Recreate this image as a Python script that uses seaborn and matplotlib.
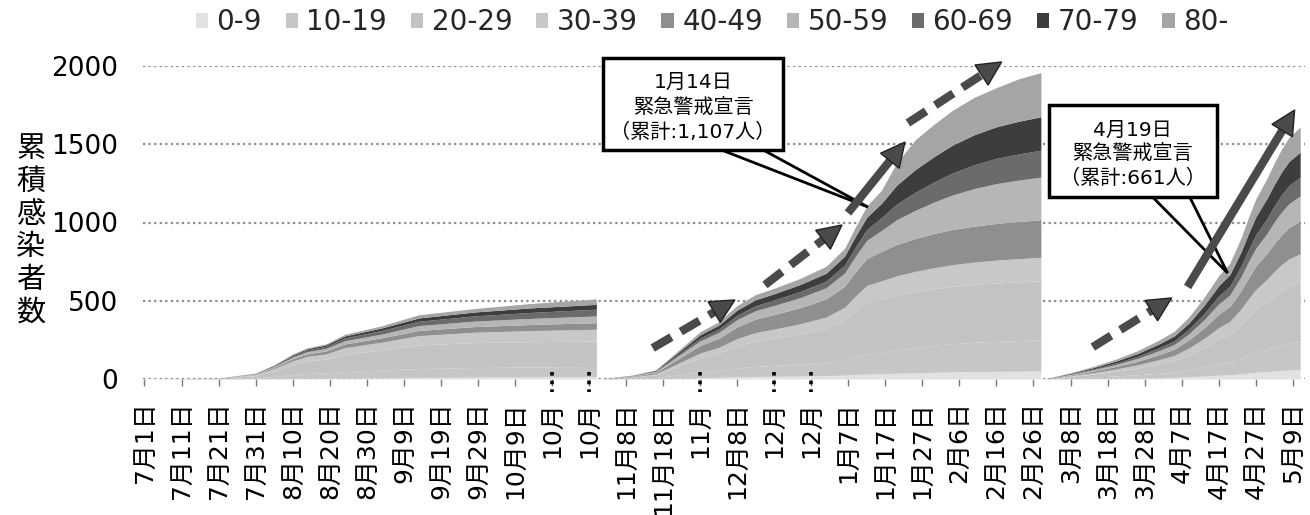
import numpy as np
import matplotlib
matplotlib.use("Agg")
import matplotlib.pyplot as plt
from matplotlib.patches import Patch, Polygon, Rectangle
import seaborn as sns

# age groups, bottom of the stack first
age_groups = ["0-9", "10-19", "20-29", "30-39", "40-49", "50-59", "60-69", "70-79", "80-"]
group_colors = ["#e2e2e2", "#c6c6c6", "#c3c3c3", "#c8c8c8", "#8f8f8f",
                "#b6b6b6", "#6b6b6b", "#3d3d3d", "#a5a5a5"]

# x axis: one category per day starting 7月1日, a label every 10 days
tick_days = list(range(0, 320, 10))
tick_labels = ["7月1日", "7月11日", "7月21日", "7月31日", "8月10日", "8月20日", "8月30日",
               "9月9日", "9月19日", "9月29日", "10月9日", "10月", "10月", "11月8日",
               "11月18日", "11月", "12月8日", "12月", "12月", "1月7日", "1月17日",
               "1月27日", "2月6日", "2月16日", "2月26日", "3月8日", "3月18日", "3月28日",
               "4月7日", "4月17日", "4月27日", "5月9日"]
marked_days = [110, 120, 150, 170, 180]

# wave 1 (7/1 - 10/31), cumulative cases per age group
wave1_days = [0, 20, 30, 35, 40, 44, 49, 54, 64, 74, 89, 104, 122]
wave1_counts = [
    [0, 0, 1, 2, 3, 4, 5, 6, 8, 10, 12, 14, 15],
    [0, 1, 6, 14, 25, 31, 34, 42, 49, 57, 61, 63, 65],
    [0, 3, 15, 36, 64, 80, 88, 110, 128, 150, 160, 161, 163],
    [0, 1, 6, 14, 24, 30, 33, 42, 50, 60, 66, 71, 75],
    [0, 1, 3, 8, 13, 16, 19, 24, 28, 33, 36, 39, 42],
    [0, 0, 3, 6, 11, 14, 16, 20, 24, 31, 35, 39, 43],
    [0, 0, 2, 5, 9, 11, 13, 18, 23, 28, 33, 38, 43],
    [0, 0, 1, 3, 6, 8, 10, 13, 16, 21, 25, 29, 31],
    [0, 0, 1, 2, 5, 6, 7, 10, 14, 20, 22, 28, 35],
]

# wave 2 (11/1 - 2/28)
wave2_days = [123, 132, 138, 144, 150, 155, 160, 165, 170, 177, 184, 189,
              192, 195, 199, 203, 208, 213, 218, 224, 230, 236, 242]
wave2_counts = [
    [0, 1, 2, 5, 9, 11, 14, 16, 17, 19, 22, 25, 29, 32, 34, 37, 40, 43, 45, 47, 49, 50, 51],
    [0, 3, 7, 22, 36, 44, 56, 65, 70, 77, 86, 100, 116, 130, 138, 150, 162, 172, 180, 187, 192, 196, 200],
    [0, 8, 17, 54, 91, 110, 141, 162, 174, 193, 216, 250, 290, 326, 340, 350, 357, 362, 366, 370, 373, 375, 377],
    [0, 3, 6, 18, 30, 37, 47, 54, 58, 64, 72, 84, 97, 110, 116, 122, 128, 134, 139, 143, 146, 148, 150],
    [0, 4, 9, 29, 48, 58, 75, 86, 93, 103, 115, 134, 155, 172, 188, 200, 210, 218, 225, 230, 234, 237, 240],
    [0, 3, 6, 18, 30, 37, 47, 54, 58, 64, 72, 84, 100, 116, 134, 158, 180, 200, 220, 240, 255, 265, 272],
    [0, 2, 4, 11, 18, 22, 28, 32, 35, 39, 43, 50, 60, 70, 82, 100, 115, 128, 140, 152, 161, 167, 172],
    [0, 1, 4, 12, 21, 25, 33, 38, 40, 45, 50, 58, 68, 78, 92, 120, 145, 162, 178, 192, 202, 209, 214],
    [0, 1, 3, 11, 19, 22, 29, 33, 35, 39, 44, 50, 60, 71, 84, 141, 190, 206, 222, 239, 250, 271, 282],
]

# wave 3 (3/1 - 5/9)
wave3_days = [243, 250, 256, 262, 268, 274, 278, 282, 286, 290, 293, 296,
              298, 300, 303, 305, 307, 309, 312]
wave3_counts = [
    [0, 1, 3, 5, 7, 9, 11, 15, 19, 24, 27, 33, 38, 43, 48, 51, 55, 58, 60],
    [0, 5, 9, 14, 20, 28, 34, 45, 58, 74, 83, 101, 115, 129, 143, 155, 165, 173, 180],
    [0, 10, 19, 30, 43, 59, 72, 94, 123, 156, 175, 212, 243, 271, 302, 326, 347, 364, 380],
    [0, 5, 9, 14, 20, 28, 34, 45, 58, 74, 83, 101, 115, 129, 143, 155, 165, 173, 180],
    [0, 5, 10, 16, 23, 33, 40, 52, 68, 86, 96, 117, 134, 149, 166, 179, 190, 200, 210],
    [0, 4, 8, 12, 18, 25, 30, 39, 52, 66, 73, 89, 102, 114, 127, 137, 146, 153, 160],
    [0, 3, 6, 9, 13, 19, 23, 30, 39, 50, 56, 68, 77, 86, 96, 103, 110, 116, 120],
    [0, 4, 8, 13, 18, 25, 31, 39, 52, 66, 74, 90, 103, 115, 128, 137, 146, 154, 160],
    [0, 3, 8, 12, 18, 24, 30, 39, 51, 65, 73, 89, 103, 114, 127, 137, 146, 154, 160],
]

# the two state-of-emergency call-outs
notes = [
    {"lines": ["1月14日", "緊急警戒宣言", "（累計:1,107人）"],
     "box": (123.8, 172.4, 1463, 2051), "line_y": [1898, 1732, 1578],
     "wedge": [(151.8, 1500), (195.3, 1099), (164.2, 1500)]},
    {"lines": ["4月19日", "緊急警戒宣言", "（累計:661人）"],
     "box": (244.1, 289.5, 1163, 1751), "line_y": [1591, 1444, 1284],
     "wedge": [(270.6, 1200), (292.4, 677), (281.4, 1200)]},
]

# trend arrows: (start, end, dashed)
trend_arrows = [
    ((137.2, 198), (159.4, 505), True),
    ((167.5, 601), (188.3, 984), True),
    ((189.9, 1061), (205.3, 1514), False),
    ((206.1, 1636), (231.4, 2026), True),
    ((256.0, 204), (277.3, 518), True),
    ((281.6, 588), (310.5, 1719), False),
]


def thick_arrow(ax, start, end, dashed):
    p0 = ax.transData.transform(start)
    p1 = ax.transData.transform(end)
    u = (p1 - p0) / np.hypot(*(p1 - p0))
    n = np.array([-u[1], u[0]])
    base = p1 - u * 24
    inv = ax.transData.inverted()
    shaft_end = inv.transform(base + u * 2)
    style = dict(color="#4a4a4a", lw=6, solid_capstyle="butt", dash_capstyle="butt",
                 clip_on=False, zorder=9)
    if dashed:
        style["dashes"] = (2.6, 1.3)
    ax.plot([start[0], shaft_end[0]], [start[1], shaft_end[1]], **style)
    head = inv.transform([p1, base + n * 12, base - n * 12])
    ax.add_patch(Polygon(head, closed=True, facecolor="#4a4a4a", edgecolor="#222222",
                         lw=1, zorder=9, clip_on=False))


sns.set_theme(style="white")
plt.rcParams["font.family"] = ["DejaVu Sans", "Noto Sans CJK JP"]

fig = plt.figure(figsize=(13.1, 5.15), dpi=100)
ax = fig.add_axes([143 / 1310, 136 / 515, 1162 / 1310, 313 / 515])

for days, counts in [(wave1_days, wave1_counts), (wave2_days, wave2_counts),
                     (wave3_days, wave3_counts)]:
    ax.stackplot(days, *counts, colors=group_colors, linewidth=0, zorder=2)

ax.set_xlim(-0.4, 313.3)
ax.set_ylim(0, 2000)
ax.set_yticks([0, 500, 1000, 1500, 2000])
ax.set_xticks(tick_days)
ax.set_xticklabels(tick_labels, rotation=90, fontsize=18, va="top", ha="center")
ax.tick_params(axis="y", left=False, length=0, pad=18, labelsize=19, labelcolor="black")
ax.tick_params(axis="x", bottom=True, length=5, width=1, color="#777777", pad=11,
               labelcolor="black")
ax.yaxis.grid(True, color="#8c8c8c", linestyle=(0, (1, 1.5)), linewidth=1.6)
ax.xaxis.grid(False)
ax.set_axisbelow(True)
sns.despine(ax=ax, left=True, bottom=True)

for d in marked_days:
    ax.plot([d, d], [45, -85], color="black", lw=2.6, linestyle=(0, (1, 1.4)),
            clip_on=False, zorder=6)

for note in notes:
    x0, x1, y0, y1 = note["box"]
    ax.add_patch(Polygon(note["wedge"], closed=True, facecolor="white", edgecolor="black",
                         lw=2, zorder=6, clip_on=False))
    ax.add_patch(Rectangle((x0, y0), x1 - x0, y1 - y0, facecolor="white",
                           edgecolor="black", lw=2.5, zorder=7, clip_on=False))
    for text, y in zip(note["lines"], note["line_y"]):
        ax.text((x0 + x1) / 2, y, text, ha="center", va="center", fontsize=14.5,
                color="black", zorder=8)

for start, end, dashed in trend_arrows:
    thick_arrow(ax, start, end, dashed)

# y label written as a vertical column of characters
for i, ch in enumerate("累積感染者数"):
    fig.text(31 / 1310, 1 - (149 + 32.8 * i) / 515, ch, ha="center", va="center",
             fontsize=21, color="black")

handles = [Patch(facecolor=c, edgecolor="none") for c in group_colors]
fig.legend(handles, age_groups, loc="center", bbox_to_anchor=(712 / 1310, 1 - 22 / 515),
           ncol=9, frameon=False, fontsize=20, handlelength=0.45, handleheight=0.45,
           handletextpad=0.3, columnspacing=0.85, borderaxespad=0)

fig.savefig("out.png", dpi=100)
plt.close(fig)
